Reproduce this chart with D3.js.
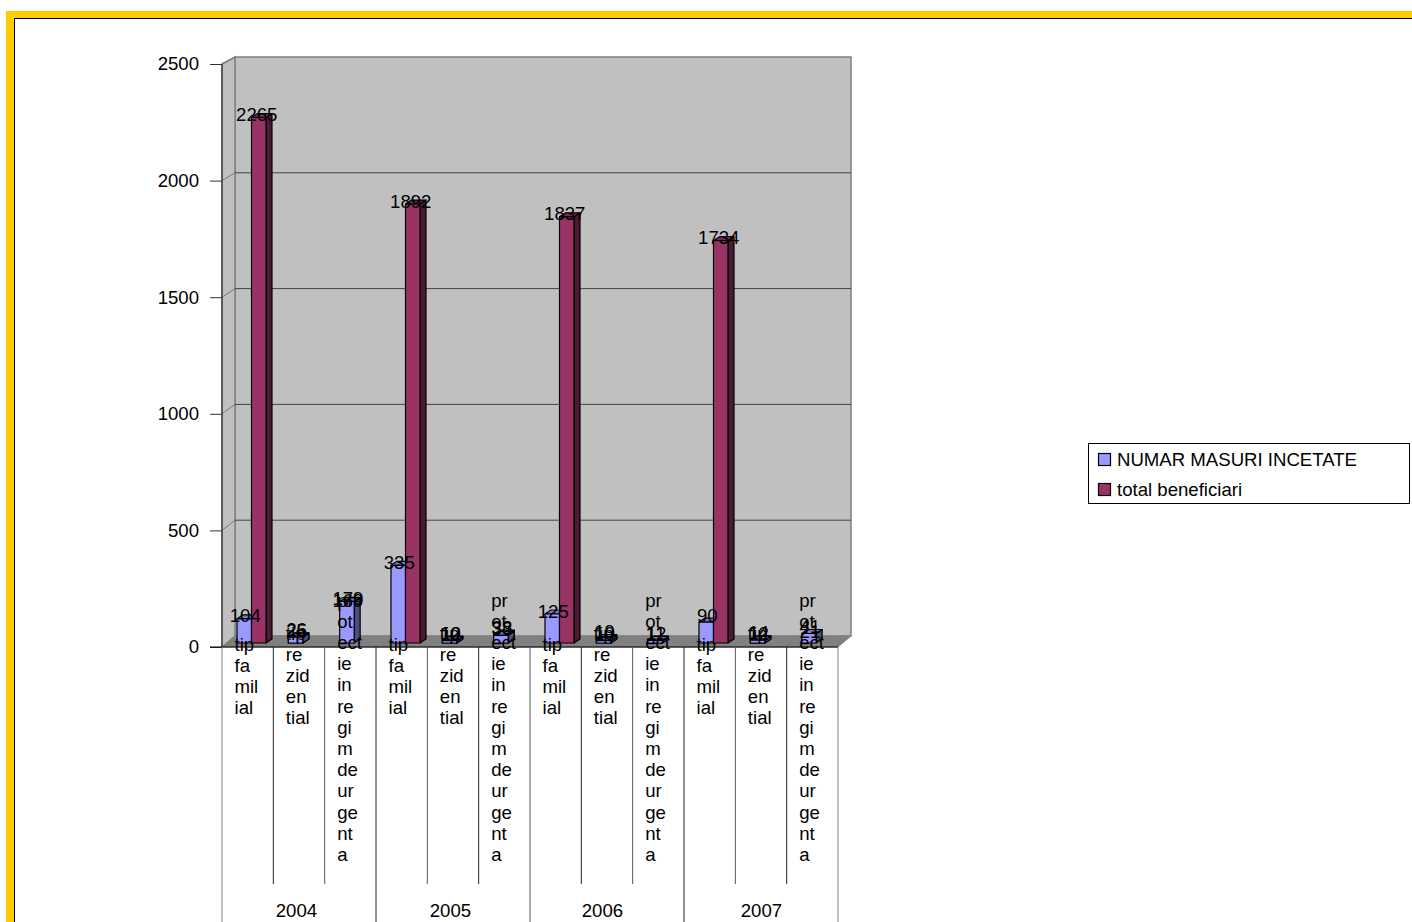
<!DOCTYPE html>
<html><head><meta charset="utf-8">
<script src="https://cdn.jsdelivr.net/npm/d3@7"></script>
<style>html,body{margin:0;padding:0;background:#fff;overflow:hidden}svg{display:block}text{font-family:"Liberation Sans",Arial,sans-serif;font-size:18.6px;fill:#000}</style>
</head><body><svg id="c" width="1412" height="922"></svg>
<script>
const years = ["2004","2005","2006","2007"];
const categories = ["tip familial","tip rezidential","protectie in regim de urgenta"];
const wrappedFamilial = ["tip","fa","mil","ial"];
const wrappedRezidential = ["tip","re","zid","en","tial"];
const wrappedProtectie = ["pr","ot","ect","ie","in","re","gi","m","de","ur","ge","nt","a"];
const numarMasuri = [104,26,169,335,12,38,125,10,12,90,14,41];
const totalBeneficiari = [2265,25,179,1892,10,33,1837,19,11,1734,12,21];
const seriesNames = ["NUMAR MASURI INCETATE","total beneficiari"];
const yTicks = [0,500,1000,1500,2000,2500];

const svg = d3.select("#c");
const C = {blue:"#9999FF",blueTop:"#7a7acc",blueSide:"#4d4d80",red:"#993366",redTop:"#7a2952",redSide:"#4d1a33"};
const front = {l:222,r:838,b:647,t:64}, back = {l:235,r:851,b:636,t:57};
const yFront = d3.scaleLinear().domain([0,2500]).range([front.b,front.t]);
const yBack = d3.scaleLinear().domain([0,2500]).range([back.b,back.t]);
const yBar = d3.scaleLinear().domain([0,2500]).range([643,63]);
const idx = d3.range(12);
const x = d3.scaleBand().domain(idx).range([front.l,front.r]);
const barW = 14.5, dx = 6, dy = 4, barPad = 15;

// frame
svg.append("rect").attr("x",6).attr("y",11).attr("width",1406).attr("height",911).attr("fill","#FFCC00");
svg.append("rect").attr("x",14).attr("y",18).attr("width",1398).attr("height",904).attr("fill","#000");
svg.append("rect").attr("x",15).attr("y",19).attr("width",1397).attr("height",903).attr("fill","#fff");

// walls
const gray="#808080";
const wall = svg.append("g");
wall.append("polygon").attr("points",`${back.l},${back.t} ${back.r},${back.t} ${back.r},${back.b} ${back.l},${back.b}`).attr("fill","#C0C0C0").attr("stroke",gray).attr("stroke-width",1.5);
wall.append("polygon").attr("points",`${front.l},${front.t} ${back.l},${back.t} ${back.l},${back.b} ${front.l},${front.b}`).attr("fill","#C0C0C0").attr("stroke",gray).attr("stroke-width",1.5);
wall.append("polygon").attr("points",`${front.l},${front.b} ${back.l},${back.b} ${back.r},${back.b} ${front.r},${front.b}`).attr("fill",gray).attr("stroke",gray);
wall.selectAll("line.g").data(yTicks.slice(1,-1)).join("line").attr("class","g")
  .attr("x1",back.l).attr("x2",back.r).attr("y1",d=>yBack(d)).attr("y2",d=>yBack(d)).attr("stroke","#444").attr("stroke-width",1);
wall.selectAll("line.d").data(yTicks.slice(1)).join("line").attr("class","d")
  .attr("x1",front.l).attr("x2",back.l).attr("y1",d=>yFront(d)).attr("y2",d=>yBack(d)).attr("stroke","#777").attr("stroke-width",1);

// axis
const ax = svg.append("g").attr("transform",`translate(${front.l},0)`)
  .call(d3.axisLeft(yFront).tickValues(yTicks).tickSize(12).tickPadding(11).tickFormat(d3.format("d")));
ax.select(".domain").attr("stroke","#444").attr("stroke-width",1.5).attr("d",`M0,${front.t}V${front.b}`);
ax.selectAll("line").attr("stroke","#333");
ax.selectAll("text").style("font-size","18.6px").style("font-family",'"Liberation Sans"').attr("fill","#000");

// cell lines below the axis
const bottom = svg.append("g");
bottom.append("line").attr("x1",210).attr("x2",front.r).attr("y1",front.b).attr("y2",front.b).attr("stroke","#000").attr("stroke-width",1.2);
bottom.selectAll("line.s").data(d3.range(13)).join("line").attr("class","s")
  .attr("x1",d=>front.l+d*x.step()).attr("x2",d=>front.l+d*x.step())
  .attr("y1",front.b).attr("y2",d=>d%3===0?922:884)
  .attr("stroke",d=>d===0||d===12?gray:(d%2?"#222":"#555")).attr("stroke-width",1);

// bars
function bar(g,i,v,slot,c){
  const x0 = x(i)+barPad+slot*barW, x1 = x0+barW, t = yBar(v), b = yBar(0);
  g.append("polygon").attr("points",`${x1},${b} ${x1+dx},${b-dy} ${x1+dx},${t-dy} ${x1},${t}`).attr("fill",c.side);
  g.append("polygon").attr("points",`${x0},${t} ${x0+dx},${t-dy} ${x1+dx},${t-dy} ${x1},${t}`).attr("fill",c.top);
  g.append("rect").attr("x",x0).attr("y",t).attr("width",barW).attr("height",b-t).attr("fill",c.front);
  g.selectAll("*").attr("stroke","#000").attr("stroke-width",1.2).attr("stroke-linejoin","round");
}
const blue={front:C.blue,top:C.blueTop,side:C.blueSide}, red={front:C.red,top:C.redTop,side:C.redSide};
const bars = svg.append("g");
idx.forEach(i=>{
  const split = totalBeneficiari[i]>500;
  if(split){
    bar(bars.append("g"),i,numarMasuri[i],0,blue);
    bar(bars.append("g"),i,totalBeneficiari[i],1,red);
  } else {
    const a=Math.max(numarMasuri[i],totalBeneficiari[i]), b=Math.min(numarMasuri[i],totalBeneficiari[i]);
    bar(bars.append("g"),i,a,0,blue);
    if(a-b<10) bar(bars.append("g"),i,b,0,blue);
  }
});

// value labels
const labels = svg.append("g").attr("text-anchor","middle");
function lab(i,v,slot){
  const small = v<100;
  labels.append("text").attr("x",x(i)+barPad+slot*barW+barW/2+(slot?-2:1))
    .attr("y",yBar(v)-(small?7:3)).attr("dy",".35em").text(v);
}
idx.forEach(i=>{
  const split = totalBeneficiari[i]>500;
  lab(i,numarMasuri[i],0);
  lab(i,totalBeneficiari[i],split?1:0);
});

// category labels
const wrapped=[wrappedFamilial,wrappedRezidential,wrappedProtectie];
const firstY=[644,633,600], lineH=21.2;
const cats = svg.append("g");
idx.forEach(i=>{
  const k=i%3;
  cats.selectAll(null).data(wrapped[k]).join("text")
    .attr("x",x(i)+12.5).attr("y",(d,j)=>firstY[k]+j*lineH).attr("dy",".35em").text(d=>d);
});

// year labels
const yearNudge=[0,0,-2,3];
svg.append("g").attr("text-anchor","middle").selectAll("text").data(years).join("text")
  .attr("x",(d,i)=>x(i*3)+x.step()*1.45+yearNudge[i]).attr("y",910).attr("dy",".35em").text(d=>d);

// legend
const lg = svg.append("g");
lg.append("rect").attr("x",1088.5).attr("y",443.5).attr("width",321).attr("height",60).attr("fill","#fff").attr("stroke","#000");
const ly = d3.scalePoint().domain(seriesNames).range([459,489]);
seriesNames.forEach((n,i)=>{
  lg.append("rect").attr("x",1098.5).attr("y",ly(n)-5.5).attr("width",12).attr("height",12)
    .attr("fill",i?C.red:C.blue).attr("stroke","#000").attr("stroke-width",1.2);
  lg.append("text").attr("x",1117).attr("y",ly(n)).attr("dy",".35em").text(n);
});
</script></body></html>
